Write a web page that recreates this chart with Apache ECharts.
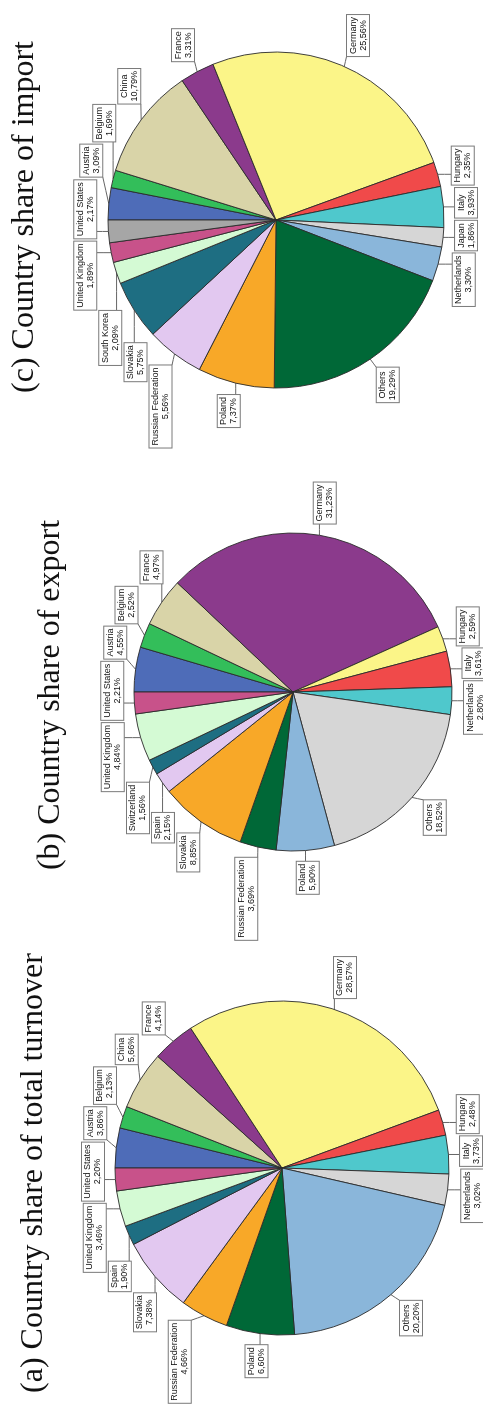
<!DOCTYPE html>
<html>
<head>
<meta charset="utf-8">
<script src="https://cdn.jsdelivr.net/npm/echarts@6/dist/echarts.min.js"></script>
<style>
  html, body { margin: 0; padding: 0; background: #fff; overflow: hidden; }
  /* The figure is laid out landscape and turned a quarter turn counter-clockwise */
  #stage {
    position: absolute; left: 0; top: 0;
    width: 1409px; height: 483px;
    transform-origin: 0 0;
    transform: translate(0, 1409px) rotate(-90deg);
  }
</style>
</head>
<body>
<div id="stage"></div>
<script>
// ---- Country shares (percent) ----
const turnoverCountries = ['Austria', 'Belgium', 'China', 'France', 'Germany', 'Hungary', 'Italy',
  'Netherlands', 'Others', 'Poland', 'Russian Federation', 'Slovakia', 'Spain', 'United Kingdom', 'United States'];
const turnoverShares = [3.86, 2.13, 5.66, 4.14, 28.57, 2.48, 3.73, 3.02, 20.20, 6.60, 4.66, 7.38, 1.90, 3.46, 2.20];

const exportCountries = ['Austria', 'Belgium', 'France', 'Germany', 'Hungary', 'Italy', 'Netherlands',
  'Others', 'Poland', 'Russian Federation', 'Slovakia', 'Spain', 'Switzerland', 'United Kingdom', 'United States'];
const exportShares = [4.55, 2.52, 4.97, 31.23, 2.59, 3.61, 2.80, 18.52, 5.90, 3.69, 8.85, 2.15, 1.56, 4.84, 2.21];

const importCountries = ['Austria', 'Belgium', 'China', 'France', 'Germany', 'Hungary', 'Italy', 'Japan',
  'Netherlands', 'Others', 'Poland', 'Russian Federation', 'Slovakia', 'South Korea', 'United Kingdom', 'United States'];
const importShares = [3.09, 1.69, 10.79, 3.31, 25.56, 2.35, 3.93, 1.86, 3.30, 19.29, 7.37, 5.56, 5.75, 2.09, 1.89, 2.17];

const panelTitles = ['(a) Country share of total turnover', '(b) Country share of export', '(c) Country share of import'];

// ---- Styling ----
const palette = ['#4e6cb8', '#33be5a', '#d9d4a8', '#8b3a8c', '#fbf588', '#f04a4a', '#4fc8cc', '#d6d6d6',
  '#8ab6da', '#006837', '#f8a828', '#e2c8f0', '#1e6e82', '#d4fad4', '#c8528a', '#a6a6a6'];

const panels = [
  { names: turnoverCountries, values: turnoverShares, center: [241, 282], radius: 167, titleX: 231, titleTop: 13 },
  { names: exportCountries, values: exportShares, center: [717, 293], radius: 159, titleX: 709, titleTop: 30 },
  { names: importCountries, values: importShares, center: [1189, 276], radius: 168, titleX: 1187, titleTop: 4 }
];

const LABEL_FONT = 9, LINE_H = 10, PAD_V = 1, PAD_H = 2, GAP = 10, MARGIN = 2;
const measureCtx = document.createElement('canvas').getContext('2d');
measureCtx.font = LABEL_FONT + 'px "Liberation Sans", Arial, sans-serif';

function pct(v) { return v.toFixed(2).replace('.', ',') + '%'; }
function clamp(v, lo, hi) { return Math.max(lo, Math.min(hi, v)); }

// Boxed labels sit just outside the pie along each slice's mid angle;
// neighbours that collide are fanned apart around the circle.
function placeLabels(p) {
  const [cx, cy] = p.center, r = p.radius;
  const total = p.values.reduce((a, b) => a + b, 0);
  let acc = 0;
  const items = p.names.map((n, i) => {
    const mid = (acc + p.values[i] / 2) / total * 2 * Math.PI;
    acc += p.values[i];
    const w = Math.max(measureCtx.measureText(n).width, measureCtx.measureText(pct(p.values[i])).width) + 2 * PAD_H + 1;
    const h = 2 * LINE_H + 2 * PAD_V + 1;
    return { mid, ang: mid, w, h };
  });
  function pos(it) {
    const ux = Math.sin(it.ang), uy = -Math.cos(it.ang);
    const d = r + GAP + Math.abs(ux) * it.w / 2 + Math.abs(uy) * it.h / 2;
    it.x = cx + ux * d; it.y = cy + uy * d;
  }
  function overlap(a, b) {
    return Math.abs(a.x - b.x) < (a.w + b.w) / 2 + MARGIN && Math.abs(a.y - b.y) < (a.h + b.h) / 2 + MARGIN;
  }
  items.forEach(pos);
  const n = items.length;
  for (let iter = 0; iter < 3000; iter++) {
    let moved = false;
    for (let i = 0; i < n; i++) {
      const a = items[i], b = items[(i + 1) % n];
      if (overlap(a, b)) { a.ang -= 0.002; b.ang += 0.002; pos(a); pos(b); moved = true; }
    }
    if (!moved) break;
  }
  items.forEach(it => {
    const ex = cx + Math.sin(it.mid) * r, ey = cy - Math.cos(it.mid) * r;
    const bx = clamp(ex, it.x - it.w / 2, it.x + it.w / 2);
    const by = clamp(ey, it.y - it.h / 2, it.y + it.h / 2);
    it.line = [[ex, ey], [(ex + bx) / 2, (ey + by) / 2], [bx, by]];
  });
  return items;
}

const layouts = panels.map(placeLabels);

const chart = echarts.init(document.getElementById('stage'), null, { renderer: 'canvas', width: 1409, height: 483 });

chart.setOption({
  animation: false,
  backgroundColor: '#fff',
  title: panels.map((p, i) => ({
    text: panelTitles[i],
    left: p.titleX,
    top: p.titleTop,
    textAlign: 'center',
    textStyle: { fontFamily: '"Liberation Serif", "DejaVu Serif", serif', fontSize: 32, fontWeight: 'normal', color: '#111' }
  })),
  series: panels.map((p, si) => ({
    type: 'pie',
    center: p.center,
    radius: p.radius,
    startAngle: 90,
    clockwise: true,
    avoidLabelOverlap: false,
    emphasis: { disabled: true },
    data: p.names.map((n, i) => ({ name: n, value: p.values[i], itemStyle: { color: palette[i] } })),
    itemStyle: { borderColor: '#2a2a2a', borderWidth: 0.9 },
    label: {
      show: true,
      position: 'outside',
      formatter: prm => prm.name + '\n' + pct(prm.value),
      fontFamily: '"Liberation Sans", Arial, sans-serif',
      fontSize: LABEL_FONT,
      lineHeight: LINE_H,
      color: '#111',
      backgroundColor: '#fff',
      borderColor: '#7a7a7a',
      borderWidth: 1,
      padding: [PAD_V, PAD_H]
    },
    labelLine: { show: true, length: 5, length2: 5, lineStyle: { color: '#666', width: 1 } },
    labelLayout: prm => {
      const it = layouts[si][prm.dataIndex];
      return { x: it.x, y: it.y, align: 'center', verticalAlign: 'middle', labelLinePoints: it.line };
    }
  }))
});
</script>
</body>
</html>
